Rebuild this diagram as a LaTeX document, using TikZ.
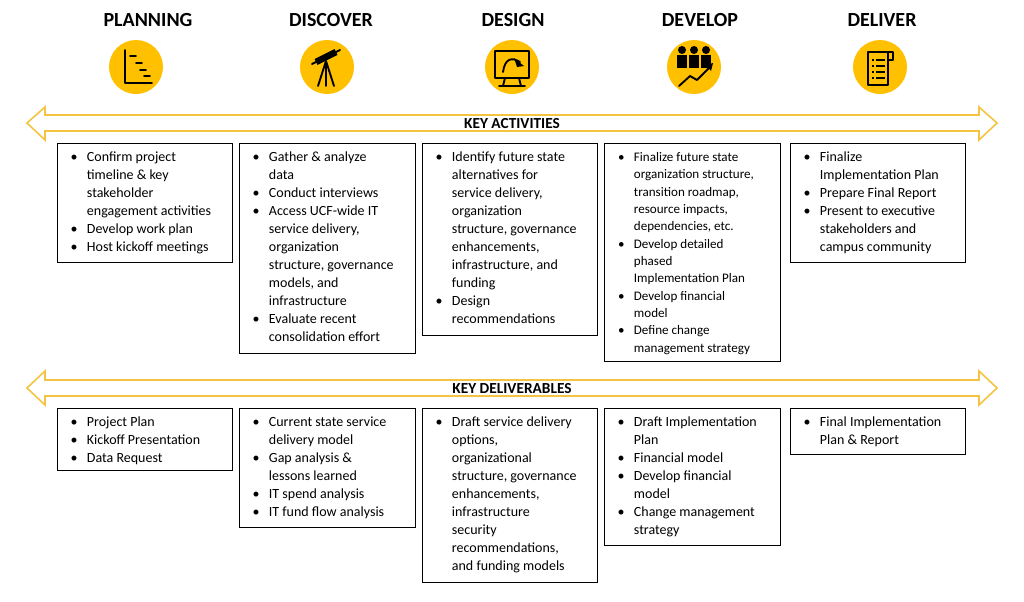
\documentclass[tikz,border=0pt]{standalone}
\usepackage{fontspec}
\setmainfont{Carlito}
\usepackage{enumitem}
\usetikzlibrary{positioning}
\definecolor{gold}{HTML}{FFC000}
\definecolor{arrowgold}{HTML}{F5C342}
\tikzset{
  phase/.style={font=\fontsize{15}{18}\selectfont\bfseries, anchor=center},
  badge/.style={circle, fill=gold, minimum size=40.5pt, inner sep=0pt},
  itembox/.style={draw=black, thin, anchor=north west, inner sep=0pt},
  itemtext/.style={anchor=north west, inner sep=0pt, font=\fontsize{10.5}{13.5}\selectfont, align=left},
  banner/.style={draw=arrowgold, line width=1.2pt, fill=white},
  bannertext/.style={font=\fontsize{11.5}{13}\selectfont\bfseries},
  icon/.style={line width=1.4pt, line cap=round, line join=round}
}
\newcommand{\blist}[2]{\begin{minipage}[t]{#1pt}\begin{itemize}[leftmargin=14pt,labelsep=7pt,itemsep=0pt,topsep=0pt,parsep=0pt,partopsep=0pt]\raggedright #2\end{itemize}\end{minipage}}
\begin{document}
\begin{tikzpicture}[x=0.75pt,y=0.75pt]
\useasboundingbox (0,0) rectangle (1024,-601);
\fill[white] (0,0) rectangle (1024,-601);

% phase headings and badges
\node[phase] (hplan) at (148,-20) {PLANNING};
\node[phase] (hdisc) at (331,-20) {DISCOVER};
\node[phase] (hdes) at (513,-20) {DESIGN};
\node[phase] (hdev) at (700,-20) {DEVELOP};
\node[phase] (hdel) at (882,-20) {DELIVER};
\node[badge] (cplan) at (136,-67) {};
\node[badge] (cdisc) at (327,-67) {};
\node[badge] (cdes) at (512,-67) {};
\node[badge] (cdev) at (694,-67) {};
\node[badge] (cdel) at (880,-67) {};

% icons
\draw[icon] (125,-50) -- (125,-83) -- (152,-83);
\draw[icon] (130,-56) -- (136,-56) (136,-63) -- (142,-63) (140,-70) -- (146,-70) (144,-76) -- (150,-76);
\draw[icon] (312,-64) -- (340,-50);
\draw[line width=5pt] (316,-62) -- (336,-52);
\draw[icon] (326,-61) -- (318,-86) (326,-61) -- (326,-86) (326,-61) -- (334,-86);
\draw[icon] (495,-51) rectangle (529,-78);
\draw[icon] (505,-78) -- (503,-86) (519,-78) -- (521,-86) (499,-86) -- (525,-86);
\draw[icon] (503,-72) .. controls (505,-58) and (512,-57) .. (520,-62);
\fill (514,-58) -- (524,-66) -- (517,-67) -- cycle;
\foreach \px in {682,694,706}{
  \fill (\px,-50) circle (3pt);
  \fill (\px-5,-55) rectangle (\px+5,-68);
}
\draw[icon] (679,-86) -- (690,-76) -- (697,-80) -- (710,-67);
\fill (706,-65) -- (713,-63) -- (711,-71) -- cycle;
\draw[icon] (868,-52) rectangle (888,-85);
\draw[icon] (888,-52) -- (893,-52) -- (893,-60) -- (888,-60);
\foreach \ly in {-60,-66,-72,-78}{
  \draw[line width=1pt] (872,\ly) -- (874,\ly) (876,\ly) -- (885,\ly);
}

% banners
\draw[banner] (27,-123) -- (45,-107) -- (45,-115) -- (979,-115) -- (979,-107) -- (997,-123)
  -- (979,-140) -- (979,-131) -- (45,-131) -- (45,-140) -- cycle;
\node[bannertext] (acts) at (512,-124) {KEY ACTIVITIES};
\draw[banner] (27,-388) -- (45,-371) -- (45,-380) -- (979,-380) -- (979,-371) -- (997,-388)
  -- (979,-405) -- (979,-396) -- (45,-396) -- (45,-405) -- cycle;
\node[bannertext] (dels) at (512,-389) {KEY DELIVERABLES};

% activity boxes
\node[itembox, minimum width=131.25pt, minimum height=89.25pt] (a1) at (57,-143) {};
\node[itembox, minimum width=132pt, minimum height=157.5pt] (a2) at (239,-143) {};
\node[itembox, minimum width=131.25pt, minimum height=144pt] (a3) at (422,-143) {};
\node[itembox, minimum width=132pt, minimum height=163.5pt] (a4) at (604,-143) {};
\node[itembox, minimum width=131.25pt, minimum height=89.25pt] (a5) at (790,-143) {};

\node[itemtext] (ta1) at (68,-152) {\blist{120}{
  \item Confirm project\newline timeline \& key\newline stakeholder\newline engagement activities
  \item Develop work plan
  \item Host kickoff meetings}};
\node[itemtext] (ta2) at (250,-152) {\blist{122}{
  \item Gather \& analyze\newline data
  \item Conduct interviews
  \item Access UCF-wide IT\newline service delivery,\newline organization\newline structure, governance\newline models, and\newline infrastructure
  \item Evaluate recent\newline consolidation effort}};
\node[itemtext] (ta3) at (433,-152) {\blist{122}{
  \item Identify future state\newline alternatives for\newline service delivery,\newline organization\newline structure, governance\newline enhancements,\newline infrastructure, and\newline funding
  \item Design\newline recommendations}};
\node[itemtext, font=\fontsize{9.8}{13}\selectfont] (ta4) at (615,-152) {\blist{124}{
  \item Finalize future state\newline organization structure,\newline transition roadmap,\newline resource impacts,\newline dependencies, etc.
  \item Develop detailed\newline phased\newline Implementation Plan
  \item Develop financial\newline model
  \item Define change\newline management strategy}};
\node[itemtext] (ta5) at (801,-152) {\blist{122}{
  \item Finalize\newline Implementation Plan
  \item Prepare Final Report
  \item Present to executive\newline stakeholders and\newline campus community}};

% deliverable boxes
\node[itembox, minimum width=131.25pt, minimum height=46.5pt] (d1) at (57,-408) {};
\node[itembox, minimum width=132pt, minimum height=89.25pt] (d2) at (239,-408) {};
\node[itembox, minimum width=131.25pt, minimum height=130.5pt] (d3) at (422,-408) {};
\node[itembox, minimum width=132pt, minimum height=102.75pt] (d4) at (604,-408) {};
\node[itembox, minimum width=131.25pt, minimum height=34.5pt] (d5) at (790,-408) {};

\node[itemtext] (td1) at (68,-417) {\blist{120}{
  \item Project Plan
  \item Kickoff Presentation
  \item Data Request}};
\node[itemtext] (td2) at (250,-417) {\blist{122}{
  \item Current state service\newline delivery model
  \item Gap analysis \&\newline lessons learned
  \item IT spend analysis
  \item IT fund flow analysis}};
\node[itemtext] (td3) at (433,-417) {\blist{122}{
  \item Draft service delivery\newline options,\newline organizational\newline structure, governance\newline enhancements,\newline infrastructure\newline security\newline recommendations,\newline and funding models}};
\node[itemtext] (td4) at (615,-417) {\blist{122}{
  \item Draft Implementation\newline Plan
  \item Financial model
  \item Develop financial\newline model
  \item Change management\newline strategy}};
\node[itemtext] (td5) at (801,-417) {\blist{122}{
  \item Final Implementation\newline Plan \& Report}};
\end{tikzpicture}
\end{document}
